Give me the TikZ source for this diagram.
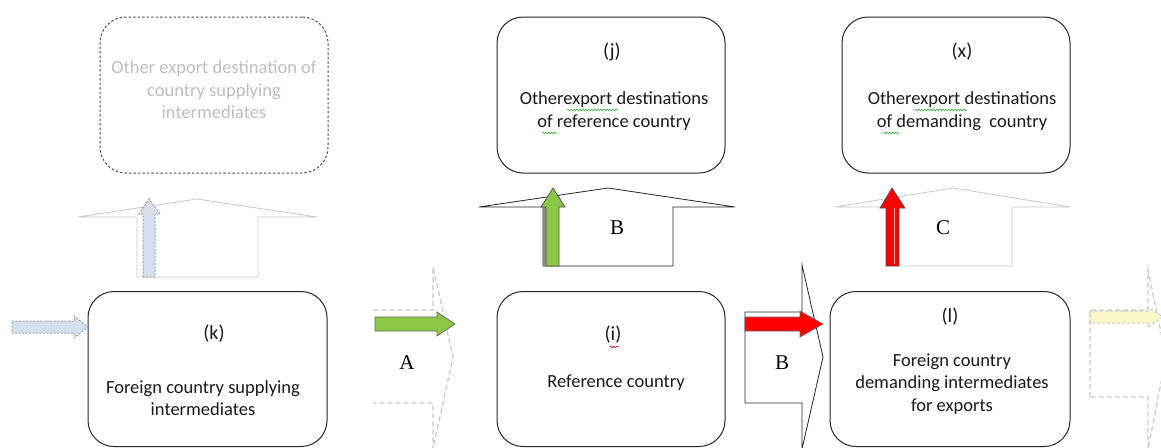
\documentclass[tikz,border=0pt]{standalone}
\usepackage{fontspec}
\setmainfont{Carlito}
\newfontfamily\serifletter{Liberation Serif}
\usetikzlibrary{decorations.pathmorphing}
\definecolor{ghostline}{RGB}{200,200,200}
\definecolor{ghosttext}{RGB}{190,190,190}
\definecolor{ghostblue}{RGB}{214,224,236}
\definecolor{ghostyellow}{RGB}{250,248,200}
\definecolor{arrowgreen}{RGB}{140,198,70}
\definecolor{arrowred}{RGB}{255,0,0}
\definecolor{squiggle}{RGB}{60,170,60}
\tikzset{
  box/.style={draw=black!85, line width=1pt, rounded corners=26pt, inner sep=0pt},
  ghostbox/.style={draw=black!70, line width=1pt, dash pattern=on 2.5pt off 2pt, rounded corners=26pt, inner sep=0pt},
  txt/.style={font=\fontsize{18.5}{22.5}\selectfont, align=center, inner sep=0pt, text=black!90},
  labtxt/.style={font=\fontsize{20}{22}\selectfont, inner sep=0pt, text=black!90},
  ghosttxt/.style={txt, text=ghosttext},
  letter/.style={font=\serifletter\fontsize{21}{21}\selectfont, inner sep=0pt},
  blockarrow/.style={draw=black!85, line width=0.8pt, fill=white},
  ghostblock/.style={draw=ghostline, line width=0.8pt, fill=white},
  ghostdash/.style={draw=ghostline, line width=1.2pt, dash pattern=on 5pt off 3pt},
  wavy/.style={draw=squiggle, line width=0.6pt, decorate, decoration={snake, amplitude=0.9pt, segment length=3pt}},
}
\begin{document}
\begin{tikzpicture}[x=1pt,y=-1pt]
\useasboundingbox[fill=white] (0,0) rectangle (1161,447);

% ---------- top boxes ----------
\node[ghostbox, minimum width=228pt, minimum height=156pt] (gtop) at (214,95) {};
\node[ghosttxt] (gtoptxt) at (214,90) {Other export destination of\\country supplying\\intermediates};

\node[box, minimum width=228pt, minimum height=156pt] (jtop) at (611,95) {};
\node[labtxt] (jlab) at (612,52) {(j)};
\node[txt] (jtxt) at (614,111) {Otherexport destinations\\of reference country};

\node[box, minimum width=228pt, minimum height=156pt] (xtop) at (956,95) {};
\node[labtxt] (xlab) at (962,52) {(x)};
\node[txt] (xtxt) at (962,111) {Otherexport destinations\\of demanding\ \ country};

% spelling squiggles
\draw[wavy] (567,110) -- (618,110);
\draw[wavy] (542,133) -- (557,133);
\draw[wavy] (915,110) -- (967,110);
\draw[wavy] (883,133) -- (899,133);

% ---------- upward block arrows ----------
\draw[ghostblock] (78,217) -- (197,199) -- (317,217) -- (258,217) -- (258,277) -- (137,277) -- (137,217) -- cycle;
\draw[blockarrow] (479,207) -- (608,188) -- (735,207) -- (673,207) -- (673,266) -- (543,266) -- (543,207) -- cycle;
\draw[ghostblock] (835,207) -- (953,188) -- (1070,207) -- (1012,207) -- (1012,266) -- (895,266) -- (895,207) -- cycle;

\node[letter] (Bup) at (617,228) {B};
\node[letter] (Cup) at (943,228) {C};

% ghost dotted blue up arrow
\draw[draw=ghostline!80!black, fill=ghostblue, line width=1pt, dash pattern=on 2pt off 1.5pt]
  (143,277) -- (143,214) -- (139,214) -- (149,199) -- (160,214) -- (155,214) -- (155,277) -- cycle;

% green up arrow with shadow
\fill[black!45] (543,266) -- (543,207) -- (556,207) -- (556,266) -- cycle;
\draw[draw=black!70, fill=arrowgreen, line width=0.7pt]
  (546,266) -- (546,207) -- (541,207) -- (553,188) -- (565,207) -- (559,207) -- (559,266) -- cycle;

% red up arrow
\draw[draw=black!70, fill=arrowred, line width=0.7pt]
  (886,266) -- (886,208) -- (880,208) -- (892,188) -- (905,208) -- (899,208) -- (899,266) -- cycle;
\draw[white!70!red, line width=0.8pt] (894,264) -- (894,208);

% ---------- bottom boxes ----------
\node[box, minimum width=239pt, minimum height=155pt] (kbox) at (207.5,369) {};
\node[labtxt] (klab) at (214,334) {(k)};
\node[txt] (ktxt) at (203,398) {Foreign country supplying\\intermediates};

\node[box, minimum width=228pt, minimum height=155pt] (ibox) at (611,369) {};
\node[labtxt] (ilab) at (613,335) {(i)};
\node[txt] (itxt) at (616,383) {Reference country};
\draw[draw=red, line width=0.6pt, decorate, decoration={snake, amplitude=0.8pt, segment length=3pt}] (610,347) -- (619,347);

\node[box, minimum width=240pt, minimum height=155pt] (lbox) at (950,369) {};
\node[labtxt] (llab) at (950,317) {(l)};
\node[txt] (ltxt) at (952,384) {Foreign country\\demanding intermediates\\for exports};

% ---------- rightward block arrows ----------
\draw[ghostdash] (373,310) -- (433,310) -- (433,267) -- (453,357) -- (433,449) -- (433,403) -- (373,403);
\draw[blockarrow] (745,312) -- (802,312) -- (802,265) -- (823,357) -- (802,449) -- (802,403) -- (745,403) -- cycle;
\draw[ghostdash] (1090,397) -- (1090,310) -- (1148,310) -- (1148,270) -- (1166,357) -- (1148,449) -- (1148,397) -- cycle;

\node[letter] (Alab) at (407,363) {A};
\node[letter] (Blab) at (782,363) {B};

% green right arrow (A)
\draw[draw=black!60, fill=arrowgreen, line width=0.7pt]
  (375,317) -- (437,317) -- (437,312) -- (455,324) -- (437,336) -- (437,331) -- (375,331) -- cycle;

% red right arrow (B)
\draw[draw=black!60, fill=arrowred, line width=0.7pt]
  (745,317) -- (800,317) -- (800,311) -- (823,324) -- (800,337) -- (800,331) -- (745,331) -- cycle;

% ghost blue dotted arrow into (k)
\draw[draw=ghostline!80!black, fill=ghostblue, line width=1pt, dash pattern=on 2pt off 1.5pt]
  (12,321) -- (74,321) -- (74,316) -- (88,327) -- (74,338) -- (74,333) -- (12,333) -- cycle;

% ghost yellow arrow at right
\draw[draw=ghostline, fill=ghostyellow, line width=1pt, dash pattern=on 3pt off 2pt]
  (1090,311) -- (1148,311) -- (1148,307) -- (1163,317) -- (1148,327) -- (1148,323) -- (1090,323) -- cycle;
\end{tikzpicture}
\end{document}
